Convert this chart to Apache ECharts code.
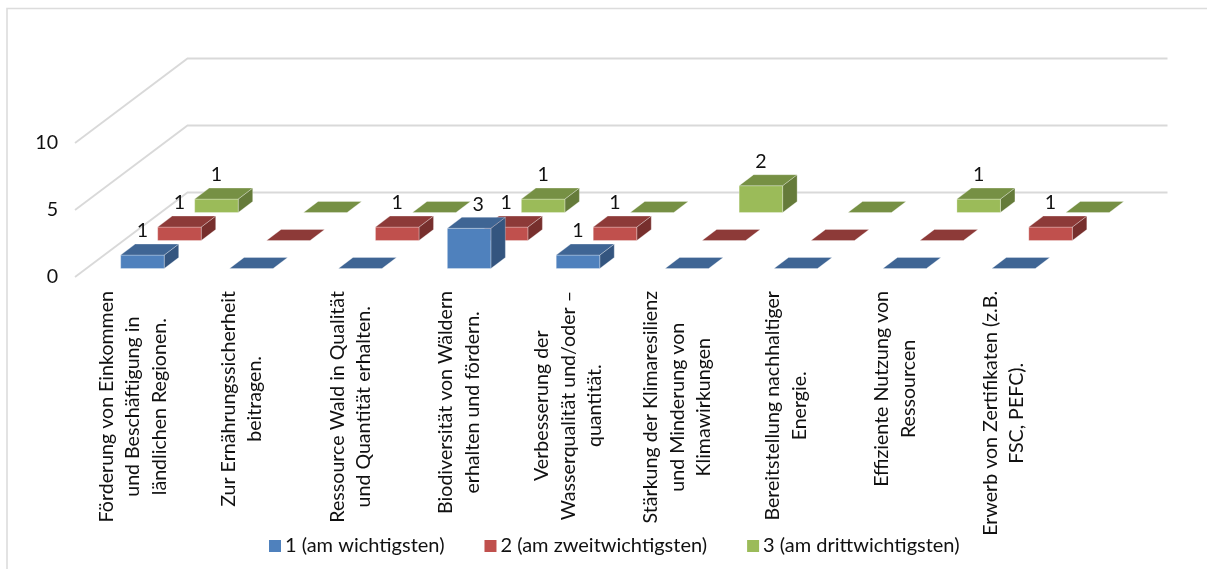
<!DOCTYPE html>
<html><head><meta charset="utf-8">
<style>html,body{margin:0;padding:0;background:#fff}#c{width:1207px;height:569px}</style>
<script src="https://cdn.jsdelivr.net/npm/echarts@6/dist/echarts.min.js"></script>
</head><body><div id="c"></div>
<script>
const categories = [
  "Förderung von Einkommen\nund Beschäftigung in\nländlichen Regionen.",
  "Zur Ernährungssicherheit\nbeitragen.",
  "Ressource Wald in Qualität\nund Quantität erhalten.",
  "Biodiversität von Wäldern\nerhalten und fördern.",
  "Verbesserung der\nWasserqualität und/oder –\nquantität.",
  "Stärkung der Klimaresilienz\nund Minderung von\nKlimawirkungen",
  "Bereitstellung nachhaltiger\nEnergie.",
  "Effiziente Nutzung von\nRessourcen",
  "Erwerb von Zertifikaten (z.B.\nFSC, PEFC)."
];
const seriesNames = ["1 (am wichtigsten)", "2 (am zweitwichtigsten)", "3 (am drittwichtigsten)"];
const values1 = [1, 0, 0, 3, 1, 0, 0, 0, 0];
const values2 = [1, 0, 1, 1, 1, 0, 0, 0, 1];
const values3 = [1, 0, 0, 1, 0, 2, 0, 1, 0];
const valueTicks = [0, 5, 10];

const FONT = 'Lato, "Open Sans", sans-serif';
const FS = 19.6;
const TXT = '#111';
const WALL_DX = 112.5, WALL_DY = -84.5;
const STEP_DX = 37, STEP_DY = -28, START_DX = 13, START_DY = -8.5;
const BAR_W = 43.5, DEPTH_DX = 14.5, DEPTH_DY = -11;
const palette = [
  {front:'#4f81bd', top:'#3f6594', side:'#34557f'},
  {front:'#c0504d', top:'#8d3a38', side:'#772f2d'},
  {front:'#9bbb59', top:'#769044', side:'#657b3a'}
];

function poly(points, fill, stroke) {
  return {type:'polygon', shape:{points}, style:{fill, stroke, lineWidth:0.8}};
}
function barRenderer(s) {
  return function (params, api) {
    const idx = api.value(0), v = api.value(1);
    const base = api.coord([idx, 0]), top = api.coord([idx, v]);
    const x0 = base[0] - BAR_W / 2 + START_DX + STEP_DX * s;
    const x1 = x0 + BAR_W;
    const yb = base[1] + START_DY + STEP_DY * s;
    const yt = top[1] + START_DY + STEP_DY * s;
    const c = palette[s], edge = 'rgba(255,255,255,0.35)';
    const children = [];
    if (v > 0) {
      children.push(poly([[x1, yb], [x1 + DEPTH_DX, yb + DEPTH_DY], [x1 + DEPTH_DX, yt + DEPTH_DY], [x1, yt]], c.side, edge));
      children.push(poly([[x0, yb], [x1, yb], [x1, yt], [x0, yt]], c.front, edge));
    }
    children.push(poly([[x0, yt], [x1, yt], [x1 + DEPTH_DX, yt + DEPTH_DY], [x0 + DEPTH_DX, yt + DEPTH_DY]], c.top, edge));
    if (v > 0) {
      const nudge = v >= 3 ? 9 : 0;
      children.push({type:'text', style:{text:String(v), x:(x0 + x1) / 2 + nudge, y:yt - 24,
        align:'center', verticalAlign:'middle', font:FS + 'px ' + FONT, fill:TXT}, z2:50});
    }
    return {type:'group', children};
  };
}
function wallRenderer(params, api) {
  const v = api.value(0);
  const band = api.size([1, 0])[0];
  const first = api.coord([0, v]), last = api.coord([categories.length - 1, v]);
  const x0 = first[0] - band / 2, x1 = last[0] + band / 2, y = first[1];
  return {type:'polyline', shape:{points:[[x0, y], [x0 + WALL_DX, y + WALL_DY], [x1 + WALL_DX, y + WALL_DY]]},
    style:{fill:'none', stroke:'#d9d9d9', lineWidth:1.8}};
}
const barSeries = [values1, values2, values3].map((vals, s) => ({
  name: seriesNames[s], type:'custom', coordinateSystem:'cartesian2d', z: 10 - s,
  itemStyle:{color: palette[s].front}, clip:false,
  encode:{x:0, y:1}, data: vals.map((v, i) => [i, v]), renderItem: barRenderer(s), silent:true
}));
const chart = echarts.init(document.getElementById('c'), null, {renderer:'canvas'});
chart.setOption({
  animation:false, backgroundColor:'#fff', textStyle:{fontFamily:FONT},
  grid:{left:75, width:980, top:143, height:134},
  graphic:[{type:'polyline', shape:{points:[[7, 569], [7, 8.5], [1207, 8.5]]}, style:{fill:'none', stroke:'#dcdcdc', lineWidth:1.6}, silent:true}],
  legend:{left:269, top:536, padding:0, itemWidth:12, itemHeight:12, itemGap:40, data:seriesNames.map(name => ({name, icon:'rect'})),
    textStyle:{fontSize:20, color:TXT, fontFamily:FONT, padding:[0,0,0,-1]}},
  xAxis:{type:'category', data:categories, axisLine:{show:false}, axisTick:{show:false}, splitLine:{show:false},
    axisLabel:{interval:0, rotate:90, margin:14, hideOverlap:false, color:TXT, padding:[6.6,0,0,0],
      formatter: t => t.split('\n').map(l => '{l|' + l + '}').join('\n'),
      rich:{l:{align:'center', fontSize:FS, lineHeight:26.5, fontFamily:FONT, color:TXT}}}},
  yAxis:{type:'value', min:0, max:10, interval:5, axisLine:{show:false}, axisTick:{show:false}, splitLine:{show:false},
    axisLabel:{margin:17, fontSize:FS, color:TXT, fontFamily:FONT}},
  series:[{type:'custom', coordinateSystem:'cartesian2d', z:1, silent:true, clip:false, encode:{x:1, y:0},
    data:valueTicks.map(v => [v, 0]), renderItem:wallRenderer}].concat(barSeries)
});
</script></body></html>
